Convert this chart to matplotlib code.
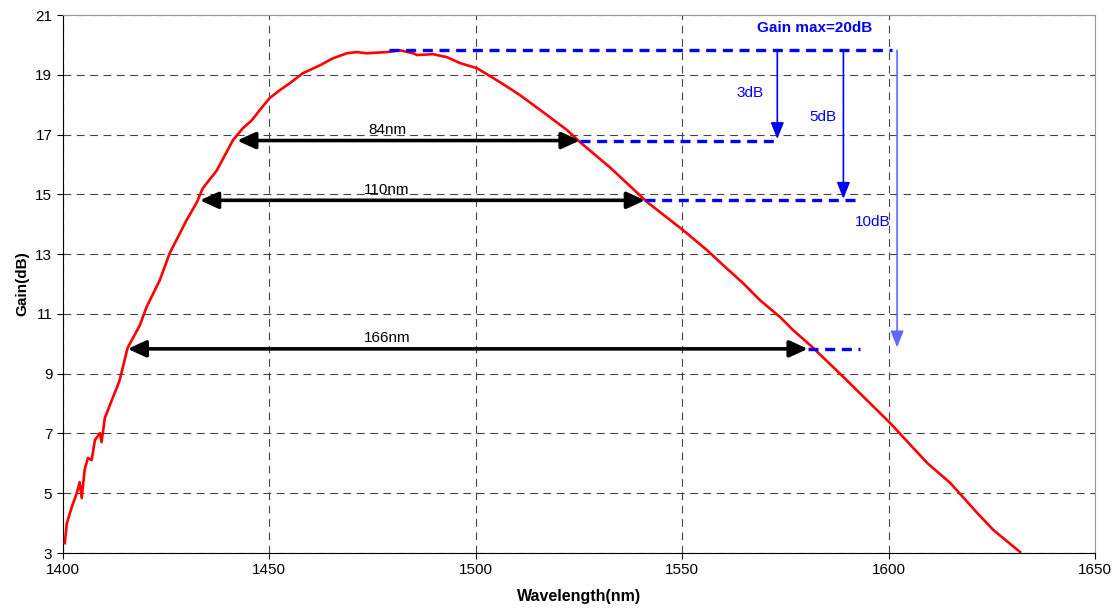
import matplotlib
matplotlib.use("Agg")
import matplotlib.pyplot as plt
import numpy as np

plt.rcParams['font.family'] = ['Liberation Sans', 'DejaVu Sans']

# gain curve (wavelength nm, gain dB)
wavelength = [1400.5, 1401.0, 1402.2, 1403.4, 1404.1, 1404.6, 1405.3, 1406.1,
              1407.0, 1407.8, 1409.0, 1409.4, 1410.2, 1411.9, 1413.3, 1413.8,
              1415.7, 1418.7, 1420.3, 1423.5, 1425.9, 1430.0, 1432.5, 1433.9,
              1437.3, 1441.2, 1443.6, 1445.8, 1447.7, 1450.1, 1452.6, 1455.0,
              1458.1, 1462.3, 1465.4, 1468.8, 1471.2, 1473.6, 1478.5, 1481.6,
              1484.8, 1485.8, 1489.6, 1493.0, 1496.2, 1500.3, 1505.9, 1510.7,
              1516.3, 1522.1, 1525.2, 1532.5, 1541.5, 1550.2, 1556.0, 1559.9,
              1564.7, 1568.8, 1573.7, 1576.8, 1581.7, 1589.0, 1600.3, 1609.3,
              1614.9, 1621.4, 1625.3, 1631.8]
gain = [3.33, 4.00, 4.54, 5.00, 5.37, 4.84, 5.78, 6.18,
        6.11, 6.78, 7.01, 6.71, 7.52, 8.12, 8.60, 8.79,
        9.86, 10.63, 11.23, 12.13, 13.03, 14.14, 14.74, 15.20,
        15.80, 16.81, 17.21, 17.48, 17.82, 18.22, 18.49, 18.72,
        19.05, 19.32, 19.55, 19.72, 19.76, 19.72, 19.76, 19.82,
        19.72, 19.66, 19.69, 19.59, 19.39, 19.22, 18.75, 18.32,
        17.75, 17.15, 16.75, 15.90, 14.74, 13.80, 13.13, 12.63,
        12.03, 11.46, 10.89, 10.46, 9.86, 8.89, 7.35, 6.01,
        5.34, 4.34, 3.77, 3.03]

gain_max = 19.82
# bandwidth arrows: label, left, right, level
bw_labels = ['84nm', '110nm', '166nm']
bw_left = [1442.2, 1433.2, 1415.7]
bw_right = [1525.2, 1541.0, 1580.4]
bw_level = [16.8, 14.8, 9.83]
# drop arrows: label, x, dashed-line end
drop_labels = ['3dB', '5dB', '10dB']
drop_x = [1573.0, 1589.0, 1602.0]
drop_end = [1573.0, 1592.0, 1593.0]
drop_label_x = [1566.5, 1584.0, 1596.0]
drop_label_y = [18.38, 17.58, 14.07]

fig = plt.figure(figsize=(11.2, 6.15), dpi=100)
ax = fig.add_axes([0.056, 0.1008, 0.922, 0.8748])

ax.plot(wavelength, gain, color='red', linewidth=1.9, zorder=3)

ax.set_xlim(1400, 1650)
ax.set_ylim(3, 21)
ax.set_xticks(np.arange(1400, 1651, 50))
ax.set_yticks(np.arange(3, 22, 2))
ax.tick_params(direction='out', length=4, labelsize=11, color='black')
ax.grid(True, color='#444444', linestyle=(0, (7, 5)), linewidth=0.8)
ax.set_axisbelow(True)
for side in ['top', 'right']:
    ax.spines[side].set_color('#999999')
ax.set_xlabel('Wavelength(nm)', fontsize=11.5, fontweight='bold', labelpad=8)
ax.set_ylabel('Gain(dB)', fontsize=11, fontweight='bold', labelpad=4)

# top dashed line at the maximum gain
ax.plot([1479.0, 1600.7], [gain_max, gain_max], color='blue', linewidth=2.4,
        linestyle=(0, (3, 2)), zorder=4)

# bandwidth arrows and dashed level lines
for lab, x0, x1, lev, xe in zip(bw_labels, bw_left, bw_right, bw_level, drop_end):
    ax.annotate('', xy=(x0, lev), xytext=(x1, lev),
                arrowprops=dict(arrowstyle='<|-|>,head_length=1.1,head_width=0.5',
                                color='black', linewidth=2.6,
                                shrinkA=0, shrinkB=0), zorder=5)
    ax.text(1478.5, lev + 0.12, lab, ha='center', va='bottom', fontsize=11)
    ax.plot([x1, xe], [lev, lev], color='blue', linewidth=2.4,
            linestyle=(0, (3, 2)), zorder=4)

# drop arrows
drop_colors = ['blue', 'blue', '#6666ff']
for lab, xd, lev, col, tx, ty in zip(drop_labels, drop_x, bw_level, drop_colors,
                                     drop_label_x, drop_label_y):
    ax.annotate('', xy=(xd, lev + 0.05), xytext=(xd, gain_max),
                arrowprops=dict(arrowstyle='-|>,head_length=1.0,head_width=0.4',
                                color=col, linewidth=1.2,
                                shrinkA=0, shrinkB=0), zorder=5)
    ax.text(tx, ty, lab, color='blue', fontsize=11, ha='center', va='center')

ax.text(1582.0, 20.55, 'Gain max=20dB', color='blue', fontsize=11,
        fontweight='bold', ha='center', va='center')

fig.savefig('out.png', dpi=100)
